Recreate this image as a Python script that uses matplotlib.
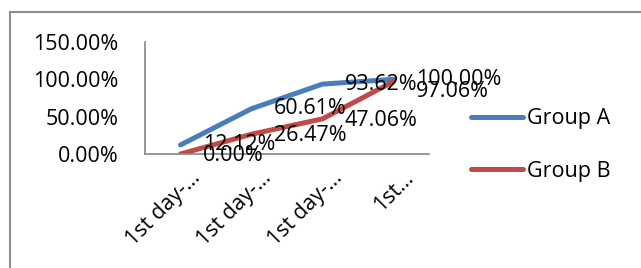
import matplotlib.pyplot as plt
from matplotlib.ticker import FuncFormatter

plt.rcParams['font.family'] = ['Open Sans', 'DejaVu Sans']

categories = ['1st day-\u2026', '1st day-\u2026', '1st day-\u2026', '1st\u2026']
group_a = [12.12, 60.61, 93.62, 100.00]
group_b = [0.00, 26.47, 47.06, 97.06]
yticks = [0, 50, 100, 150]

blue = '#4A7EBB'
red = '#BE4B48'
grey = '#868686'
fs = 15.5

fig = plt.figure(figsize=(6.41, 2.68), dpi=100)

# chart area border (only top and left edges visible in the crop)
fig.add_artist(plt.Line2D([10 / 641, 10 / 641], [0, 1 - 12 / 268], transform=fig.transFigure,
                          color='#8c8c8c', lw=1.5))
fig.add_artist(plt.Line2D([10 / 641, 1], [1 - 12 / 268, 1 - 12 / 268], transform=fig.transFigure,
                          color='#8c8c8c', lw=1.5))

ax = fig.add_axes([145 / 641, 1 - 154 / 268, 284 / 641, 112 / 268])
x = list(range(len(categories)))
ax.plot(x, group_a, color=blue, lw=3.6, label='Group A', solid_capstyle='round')
ax.plot(x, group_b, color=red, lw=3.6, label='Group B', solid_capstyle='round')

for xi, v in zip(x, group_a):
    ax.annotate('%.2f%%' % v, (xi, v), xytext=(16, 0), textcoords='offset points',
                ha='left', va='center', fontsize=fs)
for i, (xi, v) in enumerate(zip(x, group_b)):
    dy = -7 if i == 3 else -1  # excel nudges the last label off the other one
    ax.annotate('%.2f%%' % v, (xi, v), xytext=(16, dy), textcoords='offset points',
                ha='left', va='center', fontsize=fs)

ax.set_xlim(-0.5, len(categories) - 0.5)
ax.set_ylim(0, 150)
ax.set_yticks(yticks)
ax.yaxis.set_major_formatter(FuncFormatter(lambda v, p: '%.2f%%' % v))

# category labels, rotated like excel does it
ax.set_xticks(x)
ax.set_xticklabels([])
for xi, c in zip(x, categories):
    ax.annotate(c, (xi, 0), xycoords=('data', 'axes fraction'), xytext=(12, -15),
                textcoords='offset points', rotation=45, ha='right', va='center',
                rotation_mode='anchor', fontsize=fs, annotation_clip=False)

ax.tick_params(axis='both', length=0, labelsize=fs)
ax.tick_params(axis='y', pad=19)
for s in ['top', 'right']:
    ax.spines[s].set_visible(False)
for s in ['left', 'bottom']:
    ax.spines[s].set_color(grey)
    ax.spines[s].set_linewidth(1.2)

leg = fig.legend(loc='center left', bbox_to_anchor=(452 / 641, 1 - 145 / 268), frameon=False,
                 fontsize=fs, handlelength=2.4, handletextpad=0.2, labelspacing=1.45)
for ln in leg.get_lines():
    ln.set_solid_capstyle('round')

fig.savefig('out.png', dpi=100)
